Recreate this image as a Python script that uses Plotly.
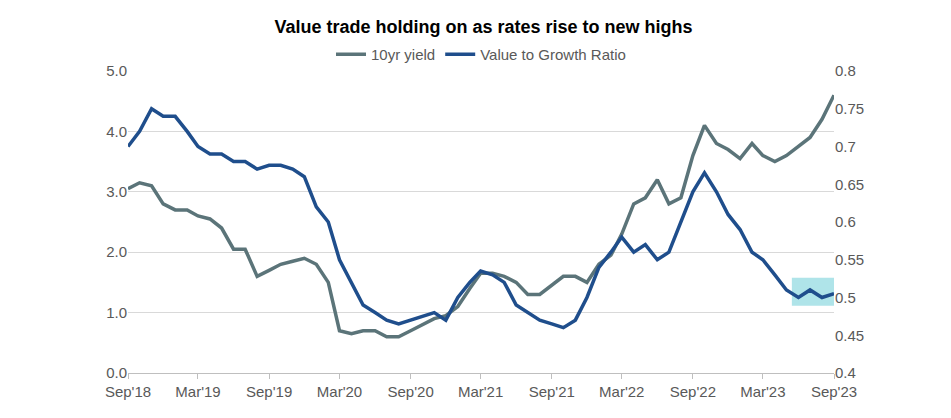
import plotly.graph_objects as go
import pandas as pd

dates = pd.date_range("2018-09-01", "2023-09-01", freq="MS")
yield10 = [3.05,3.15,3.1,2.8,2.7,2.7,2.6,2.55,2.4,2.05,2.05,1.6,1.7,1.8,1.85,1.9,1.8,1.5,0.7,0.65,0.7,0.7,0.6,0.6,0.7,0.8,0.9,0.95,1.1,1.4,1.65,1.65,1.6,1.5,1.3,1.3,1.45,1.6,1.6,1.5,1.8,1.95,2.3,2.8,2.9,3.2,2.8,2.9,3.6,4.1,3.8,3.7,3.55,3.8,3.6,3.5,3.6,3.75,3.9,4.2,4.6]
ratio = [0.70,0.72,0.75,0.74,0.74,0.72,0.70,0.69,0.69,0.68,0.68,0.67,0.675,0.675,0.67,0.66,0.62,0.60,0.55,0.52,0.49,0.48,0.47,0.465,0.47,0.475,0.48,0.47,0.50,0.52,0.535,0.53,0.52,0.49,0.48,0.47,0.465,0.46,0.47,0.50,0.54,0.56,0.58,0.56,0.57,0.55,0.56,0.60,0.64,0.665,0.64,0.61,0.59,0.56,0.55,0.53,0.51,0.50,0.51,0.50,0.505]
tick_dates = ["2018-09-01","2019-03-01","2019-09-01","2020-03-01","2020-09-01","2021-03-01","2021-09-01","2022-03-01","2022-09-01","2023-03-01","2023-09-01"]
tick_labels = ["Sep'18","Mar'19","Sep'19","Mar'20","Sep'20","Mar'21","Sep'21","Mar'22","Sep'22","Mar'23","Sep'23"]

fig = go.Figure()
fig.add_trace(go.Scatter(x=dates, y=yield10, name="10yr yield", mode="lines",
                         line=dict(color="#5b7479", width=3.5)))
fig.add_trace(go.Scatter(x=dates, y=ratio, name="Value to Growth Ratio", mode="lines",
                         line=dict(color="#1f4e8c", width=3.5), yaxis="y2"))
fig.add_shape(type="rect", xref="x", yref="y2", x0="2023-05-15", x1="2023-09-10", y0=0.489, y1=0.526,
              fillcolor="rgba(110,205,215,0.55)", line=dict(width=0), layer="below")
fig.update_layout(
    width=951, height=418, plot_bgcolor="white", paper_bgcolor="white",
    margin=dict(l=120, r=125, t=63, b=53, autoexpand=False),
    font=dict(family="Liberation Sans", size=15, color="#595959"),
    title=dict(text="<b>Value trade holding on as rates rise to new highs</b>", x=0.5, y=0.955,
               yref="container", xanchor="center", yanchor="middle", font=dict(size=18, color="black")),
    legend=dict(orientation="h", x=0.5, xanchor="center", y=1.0, yanchor="bottom",
                font=dict(size=15, color="#595959")),
    xaxis=dict(range=["2018-09-01","2023-09-01"], tickvals=tick_dates, ticktext=tick_labels,
               showgrid=False, showline=True, linecolor="#bfbfbf", ticks="outside", tickcolor="#bfbfbf"),
    yaxis=dict(range=[0,5], dtick=1, tickformat=".1f", gridcolor="#d9d9d9", zeroline=False),
    yaxis2=dict(range=[0.4,0.8], dtick=0.05, overlaying="y", side="right", showgrid=False,
                tickformat="~g", zeroline=False),
)
fig.write_html("out.html")
